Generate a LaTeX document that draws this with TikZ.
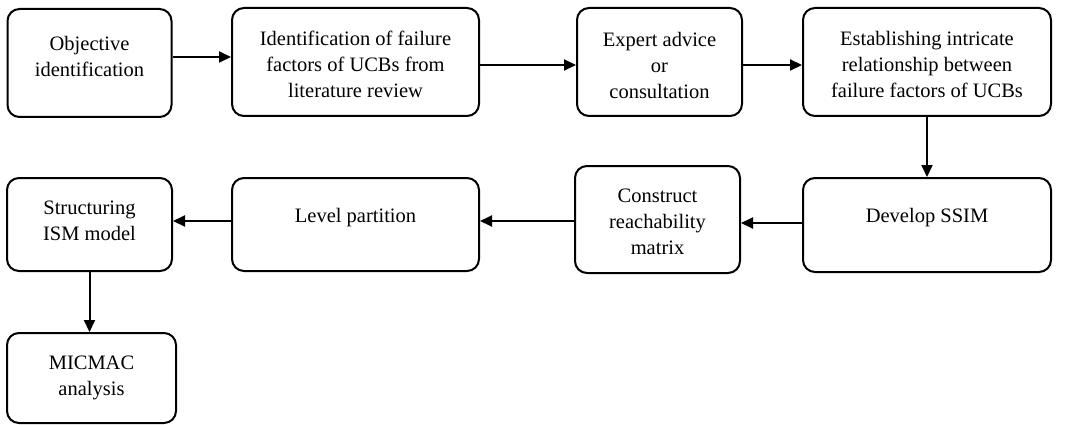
\documentclass[tikz,border=0pt]{standalone}
\usepackage{fontspec}
\setmainfont{Liberation Serif}
\usetikzlibrary{arrows.meta}
\begin{document}
\begin{tikzpicture}[x=1pt,y=-1pt,
  box/.style={draw, line width=2pt, rounded corners=12pt, inner sep=0pt},
  lbl/.style={align=center, font=\rmfamily\fontsize{20.5}{26}\selectfont, inner sep=0pt},
  arr/.style={line width=2pt, -{Triangle[length=12pt,width=11pt]}}]
\useasboundingbox (0,0) rectangle (1067,425);
% boxes
\node[box, minimum width=164pt, minimum height=108pt] (b1) at (89.5,63) {};
\node[box, minimum width=247pt, minimum height=108pt] (b2) at (355.5,62) {};
\node[box, minimum width=165pt, minimum height=108pt] (b3) at (659.5,62) {};
\node[box, minimum width=248pt, minimum height=108pt] (b4) at (927,62) {};
\node[box, minimum width=248pt, minimum height=94pt] (b5) at (927,225) {};
\node[box, minimum width=165pt, minimum height=107pt] (b6) at (657.5,219.5) {};
\node[box, minimum width=247pt, minimum height=93pt] (b7) at (355.5,224.5) {};
\node[box, minimum width=165pt, minimum height=93pt] (b8) at (89.5,224.5) {};
\node[box, minimum width=169pt, minimum height=90pt] (b9) at (91.5,378) {};
% texts
\node[lbl] (t1) at (89.5,56) {Objective\\identification};
\node[lbl] (t2) at (355.5,64) {Identification of failure\\factors of UCBs from\\literature review};
\node[lbl] (t3) at (659.5,65) {Expert advice\\or\\consultation};
\node[lbl] (t4) at (927,64) {Establishing intricate\\relationship between\\failure factors of UCBs};
\node[lbl] (t5) at (927,218) {Develop SSIM};
\node[lbl] (t6) at (657.5,222) {Construct\\reachability\\matrix};
\node[lbl] (t7) at (355.5,218) {Level partition};
\node[lbl] (t8) at (89.5,221) {Structuring\\ISM model};
\node[lbl] (t9) at (91.5,378) {MICMAC\\analysis};
% arrows
\draw[arr] ([yshift=6pt]b1.east) -- ([yshift=6pt]b1.east -| b2.west);
\draw[arr] ([yshift=-3pt]b2.east) -- ([yshift=-3pt]b2.east -| b3.west);
\draw[arr] ([yshift=-3pt]b3.east) -- ([yshift=-3pt]b3.east -| b4.west);
\draw[arr] (b4.south) -- (b5.north);
\draw[arr] ([yshift=2pt]b5.west) -- ([yshift=2pt]b5.west -| b6.east);
\draw[arr] ([yshift=-1.5pt]b6.west) -- ([yshift=-1.5pt]b6.west -| b7.east);
\draw[arr] ([yshift=3.5pt]b7.west) -- ([yshift=3.5pt]b7.west -| b8.east);
\draw[arr] (b8.south) -- (b8.south |- b9.north);
\end{tikzpicture}
\end{document}
